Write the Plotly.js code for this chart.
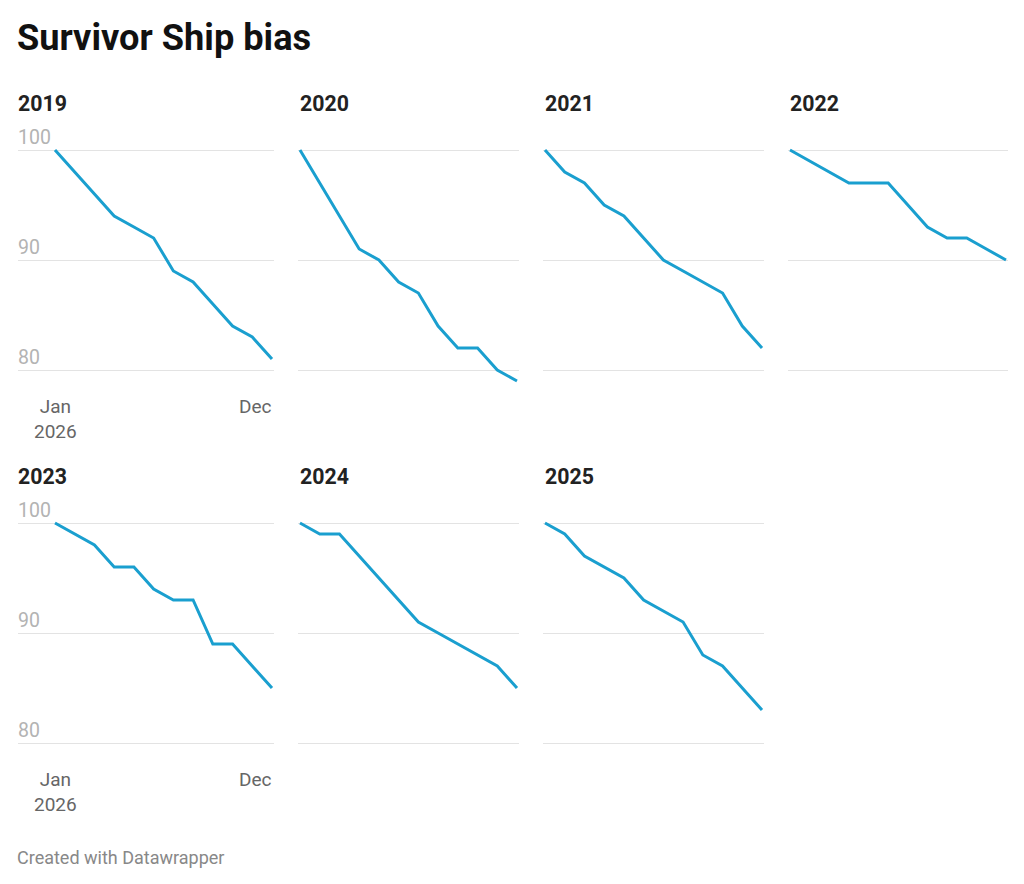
<!DOCTYPE html>
<html>
<head>
<meta charset="utf-8">
<script src="https://cdn.plot.ly/plotly-3.0.1.min.js"></script>
<style>html,body{margin:0;padding:0;background:#fff;}#chart{width:1024px;height:884px;}</style>
</head>
<body>
<div id="chart"></div>
<script>
// ---- data ----
const years = ["2019", "2020", "2021", "2022", "2023", "2024", "2025"];
const months = ["Jan","Feb","Mar","Apr","May","Jun","Jul","Aug","Sep","Oct","Nov","Dec"];
const values2019 = [100, 98, 96, 94, 93, 92, 89, 88, 86, 84, 83, 81];
const values2020 = [100, 97, 94, 91, 90, 88, 87, 84, 82, 82, 80, 79];
const values2021 = [100, 98, 97, 95, 94, 92, 90, 89, 88, 87, 84, 82];
const values2022 = [100, 99, 98, 97, 97, 97, 95, 93, 92, 92, 91, 90];
const values2023 = [100, 99, 98, 96, 96, 94, 93, 93, 89, 89, 87, 85];
const values2024 = [100, 99, 99, 97, 95, 93, 91, 90, 89, 88, 87, 85];
const values2025 = [100, 99, 97, 96, 95, 93, 92, 91, 88, 87, 85, 83];
const seriesValues = [values2019, values2020, values2021, values2022, values2023, values2024, values2025];
const yTicks = [80, 90, 100];
const yTickLabels = ["80", "90", "100"];
const xFirstLabel = "Jan<br>2026";
const xLastLabel = "Dec";
const chartTitle = "Survivor Ship bias";
const footer = "Created with Datawrapper";

// ---- layout helpers (pixels) ----
const W = 1024, H = 884;
const px = v => v / W;
const py = v => 1 - v / H;
const colDomains = [[18, 274], [298, 519], [543, 764], [788, 1008]];
const dataLeft = [55, 300, 545, 790];
const dataRight = [272, 517, 762, 1006];
const rowTop = [139, 512];      // pixel of y=101
const pxPerUnit = 11;
const yRange = [78, 101];
const font = "Roboto, 'Open Sans', sans-serif";
const lineColor = "#1a9fcf";

const traces = [];
const layout = {
  width: W, height: H,
  margin: {l: 0, r: 0, t: 0, b: 0},
  paper_bgcolor: "#fff", plot_bgcolor: "rgba(0,0,0,0)",
  showlegend: false,
  font: {family: font},
  annotations: [],
  title: {text: ""}
};

layout.annotations.push({
  xref: "paper", yref: "paper", x: px(15), y: py(38), xanchor: "left", yanchor: "middle",
  text: "<b>" + chartTitle + "</b>", showarrow: false,
  font: {family: font, size: 36.2, color: "#111"}
});
layout.annotations.push({
  xref: "paper", yref: "paper", x: px(15), y: py(857), xanchor: "left", yanchor: "middle",
  text: footer, showarrow: false,
  font: {family: font, size: 18, color: "#888"}
});

seriesValues.forEach((vals, i) => {
  const row = Math.floor(i / 4), col = i % 4;
  const n = i + 1;
  const xa = "xaxis" + (n === 1 ? "" : n), ya = "yaxis" + (n === 1 ? "" : n);
  const xr = "x" + (n === 1 ? "" : n), yr = "y" + (n === 1 ? "" : n);
  const xs = vals.map((_, k) => k);
  traces.push({
    type: "scatter", mode: "lines", x: xs, y: vals, xaxis: xr, yaxis: yr,
    line: {color: lineColor, width: 3, shape: "linear"}, hoverinfo: "skip"
  });
  const ppm = (dataRight[col] - dataLeft[col]) / (months.length - 1);
  const d = colDomains[col];
  const r0 = (d[0] - dataLeft[col]) / ppm;
  const r1 = (months.length - 1) + (d[1] - dataRight[col]) / ppm;
  const top = rowTop[row];
  const bottom = top + (yRange[1] - yRange[0]) * pxPerUnit;
  layout[xa] = {
    domain: [px(d[0]), px(d[1])], range: [r0, r1], anchor: yr,
    showgrid: false, zeroline: false, showticklabels: false, showline: false, ticks: "", fixedrange: true
  };
  layout[ya] = {
    domain: [py(bottom), py(top)], range: yRange, anchor: xr,
    tickvals: yTicks, showticklabels: false, showgrid: true, gridcolor: "#e3e3e3", gridwidth: 1,
    zeroline: false, showline: false, ticks: "", fixedrange: true
  };
  // panel title
  const titleLeft = (col === 0 ? d[0] : dataLeft[col]) - 2;
  layout.annotations.push({
    xref: "paper", yref: "paper", x: px(titleLeft), y: py(top - 36), xanchor: "left", yanchor: "middle",
    text: "<b>" + years[i] + "</b>", showarrow: false,
    font: {family: font, size: 21.3, color: "#222"}
  });
  // y tick labels and x labels only in first column
  if (col === 0) {
    yTicks.forEach((t, k) => {
      layout.annotations.push({
        xref: "paper", yref: yr, x: px(d[0] - 2), y: t, xanchor: "left", yanchor: "middle", yshift: 13,
        text: yTickLabels[k], showarrow: false,
        font: {family: font, size: 19.5, color: "#b3b3b3"}
      });
    });
    layout.annotations.push({
      xref: xr, yref: yr, x: 0, y: yRange[0], xanchor: "center", yanchor: "top", yshift: -1,
      text: xFirstLabel, showarrow: false, align: "center",
      font: {family: font, size: 19, color: "#666"}
    });
    layout.annotations.push({
      xref: xr, yref: yr, x: months.length - 1, y: yRange[0], xanchor: "right", yanchor: "top", yshift: -1, xshift: 2,
      text: xLastLabel, showarrow: false, align: "right",
      font: {family: font, size: 19, color: "#666"}
    });
  }
});

Plotly.newPlot("chart", traces, layout, {staticPlot: true, displayModeBar: false});
</script>
</body>
</html>
